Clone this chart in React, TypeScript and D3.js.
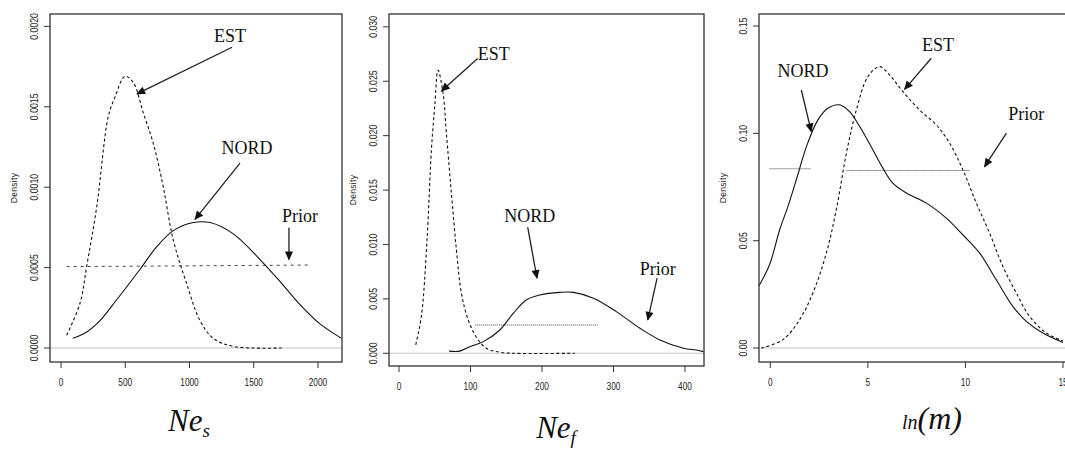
import React, { useEffect, useRef } from 'react';
import * as d3 from 'd3';

// ---- data: [value, density] ----
const nesXTicks = [0, 500, 1000, 1500, 2000];
const nesYTicks = [0, 0.0005, 0.001, 0.0015, 0.002];
const nesEst = [
  [44, 0.00008], [148, 0.00028], [200, 0.00051], [278, 0.00088], [368, 0.00144],
  [420, 0.00156], [498, 0.00169], [563, 0.00165], [641, 0.00146], [719, 0.00127],
  [796, 0.001], [874, 0.00067], [978, 0.0004], [1082, 0.00017], [1185, 0.00006],
  [1341, 0.00001], [1717, 0],
];
const nesNord = [
  [91, 0.00006], [200, 0.0001], [303, 0.00017], [433, 0.0003], [615, 0.00049],
  [745, 0.00063], [874, 0.00073], [1030, 0.00078], [1160, 0.00078], [1341, 0.00071],
  [1549, 0.00055], [1730, 0.00039], [1860, 0.00027], [2016, 0.00015], [2184, 0.00006],
];
const nesPrior = [[[44, 0.000506], [1951, 0.000516]]];

const nefXTicks = [0, 100, 200, 300, 400];
const nefYTicks = [0, 0.005, 0.01, 0.015, 0.02, 0.025, 0.03];
const nefEst = [
  [23.4, 0.00077], [31.3, 0.0034], [39.2, 0.0104], [45.3, 0.0187], [50, 0.0227],
  [54.6, 0.026], [61.6, 0.0239], [66.3, 0.0202], [73.3, 0.0147], [80.3, 0.0095],
  [87.3, 0.0055], [96.6, 0.0031], [108, 0.0015], [122, 0.00046], [141, 0.0001],
  [160, 0], [246, 0],
];
const nefNord = [
  [70, 0.0002], [85, 0.0002], [99, 0.0006], [118, 0.00107], [141, 0.00214],
  [160, 0.00368], [178, 0.0049], [197, 0.00536], [225, 0.0056], [244, 0.0056],
  [272, 0.00506], [304, 0.00383], [337, 0.0023], [365, 0.00122], [398, 0.00046],
  [416, 0.0003], [426, 0.00015],
];
const nefPrior = [[[106, 0.0026], [279, 0.0026]]];

const lnmXTicks = [0, 5, 10, 15];
const lnmYTicks = [0, 0.05, 0.1, 0.15];
const lnmEst = [
  [-0.46, 0], [0.65, 0.0039], [1.5, 0.0132], [2.18, 0.0256], [2.87, 0.0442],
  [3.38, 0.0644], [3.9, 0.0908], [4.41, 0.1109], [5.0, 0.1264], [5.6, 0.1311],
  [6.11, 0.1272], [6.8, 0.1194], [7.65, 0.1109], [8.51, 0.1039], [9.19, 0.0954],
  [9.87, 0.083], [10.56, 0.0675], [11.24, 0.0535], [11.92, 0.038], [12.61, 0.0256],
  [13.29, 0.0147], [14.15, 0.007], [15.0, 0.0033],
];
const lnmNord = [
  [-0.58, 0.029], [-0.04, 0.0388], [0.48, 0.0551], [0.9, 0.0659], [1.33, 0.0783],
  [1.85, 0.0938], [2.44, 0.1063], [2.95, 0.1117], [3.55, 0.1133], [4.06, 0.1101],
  [4.58, 0.1032], [5.26, 0.0923], [5.77, 0.0838], [6.28, 0.0768], [6.97, 0.0722],
  [8.0, 0.0675], [9.02, 0.0605], [9.87, 0.0527], [10.73, 0.0442], [11.58, 0.0318],
  [12.43, 0.0194], [13.12, 0.0124], [13.97, 0.007], [15.0, 0.0026],
];
const lnmPrior = [
  [[-0.04, 0.0835], [2.1, 0.0835]],
  [[3.9, 0.0827], [10.2, 0.0827]],
];

// annotation labels: text position, arrow start, arrow end (data units)
const nesNotes = [
  { text: 'EST', at: [1315, 0.00193], from: [1331, 0.00187], to: [591, 0.00158] },
  { text: 'NORD', at: [1447, 0.00123], from: [1393, 0.00115], to: [1043, 0.0008] },
  { text: 'Prior', at: [1860, 0.00081], from: [1774, 0.00075], to: [1774, 0.00055] },
];
const nefNotes = [
  { text: 'EST', at: [132.6, 0.0273], from: [110, 0.0271], to: [59.4, 0.0241] },
  { text: 'NORD', at: [183, 0.0124], from: [180, 0.0116], to: [193, 0.0069] },
  { text: 'Prior', at: [362, 0.00756], from: [361, 0.0069], to: [348, 0.00306] },
];
const lnmNotes = [
  { text: 'EST', at: [8.59, 0.1404], from: [8.25, 0.135], to: [6.88, 0.1205] },
  { text: 'NORD', at: [1.67, 0.1283], from: [1.59, 0.1202], to: [2.1, 0.1008] },
  { text: 'Prior', at: [13.12, 0.1081], from: [12.1, 0.1001], to: [10.98, 0.0845] },
];

const SANS = 'Liberation Sans';
const SERIF = 'Liberation Serif';

// layout of the three panels
const panels = [
  {
    box: { left: 50, right: 342, top: 14, bottom: 362 },
    xDomain: [-86, 2187], yDomain: [-0.000087, 0.002077],
    xTicks: nesXTicks, yTicks: nesYTicks, yFormat: '.4f',
    est: nesEst, nord: nesNord, prior: nesPrior, notes: nesNotes,
    priorDash: '3,4', title: { x: 189, y: 431, main: 'Ne', sub: 's' },
  },
  {
    box: { left: 389, right: 704, top: 14, bottom: 366 },
    xDomain: [-14, 426.6], yDomain: [-0.00117, 0.03118],
    xTicks: nefXTicks, yTicks: nefYTicks, yFormat: '.3f',
    est: nefEst, nord: nefNord, prior: nefPrior, notes: nefNotes,
    priorDash: '1,1', title: { x: 556, y: 438, main: 'Ne', sub: 'f' },
  },
  {
    box: { left: 759, right: 1070, top: 14, bottom: 362 },
    xDomain: [-0.58, 15.36], yDomain: [-0.0065, 0.1556],
    xTicks: lnmXTicks, yTicks: lnmYTicks, yFormat: '.2f',
    est: lnmEst, nord: lnmNord, prior: lnmPrior, notes: lnmNotes,
    priorDash: '1,1', title: null,
  },
];

function drawPanel(root, p) {
  const { box } = p;
  const x = d3.scaleLinear().domain(p.xDomain).range([box.left, box.right]);
  const y = d3.scaleLinear().domain(p.yDomain).range([box.bottom, box.top]);
  const g = root.append('g');

  // zero line
  g.append('line')
    .attr('x1', box.left).attr('x2', box.right)
    .attr('y1', y(0)).attr('y2', y(0))
    .attr('stroke', '#c4c4c4').attr('stroke-width', 1);

  const line = d3.line()
    .x(d => x(d[0]))
    .y(d => y(d[1]))
    .curve(d3.curveCatmullRom);

  p.prior.forEach(seg => {
    g.append('path').attr('d', line(seg))
      .attr('fill', 'none').attr('stroke', '#444').attr('stroke-width', 1)
      .attr('stroke-dasharray', p.priorDash);
  });
  g.append('path').attr('d', line(p.est))
    .attr('fill', 'none').attr('stroke', '#111').attr('stroke-width', 1.1)
    .attr('stroke-dasharray', '3,2.5');
  g.append('path').attr('d', line(p.nord))
    .attr('fill', 'none').attr('stroke', '#111').attr('stroke-width', 1.1);

  // box
  g.append('rect')
    .attr('x', box.left).attr('y', box.top)
    .attr('width', box.right - box.left).attr('height', box.bottom - box.top)
    .attr('fill', 'none').attr('stroke', '#333').attr('stroke-width', 1.3);

  // x axis ticks
  const xa = g.append('g');
  p.xTicks.forEach(t => {
    xa.append('line')
      .attr('x1', x(t)).attr('x2', x(t))
      .attr('y1', box.bottom).attr('y2', box.bottom + 6)
      .attr('stroke', '#333');
    xa.append('text')
      .attr('transform', `translate(${x(t)},${box.bottom + 24}) scale(0.72,1)`)
      .attr('text-anchor', 'middle')
      .style('font-family', SANS)
      .attr('font-size', 11.5)
      .attr('fill', '#222')
      .text(t);
  });

  // y axis ticks, labels rotated as in R
  const fmt = d3.format(p.yFormat);
  const ya = g.append('g');
  p.yTicks.forEach(t => {
    ya.append('line')
      .attr('x1', box.left - 6).attr('x2', box.left)
      .attr('y1', y(t)).attr('y2', y(t))
      .attr('stroke', '#333');
    ya.append('text')
      .attr('transform', `translate(${box.left - 15},${y(t)}) rotate(-90) scale(0.76,1)`)
      .attr('text-anchor', 'middle').attr('dominant-baseline', 'middle')
      .style('font-family', SANS)
      .attr('font-size', 11.5)
      .attr('fill', '#222')
      .text(fmt(t));
  });
  g.append('text')
    .attr('transform', `translate(${box.left - 35},${(box.top + box.bottom) / 2}) rotate(-90)`)
    .attr('text-anchor', 'middle').attr('dominant-baseline', 'middle')
    .style('font-family', SANS)
    .attr('font-size', 8.5).attr('letter-spacing', '0.3px')
    .attr('fill', '#222')
    .text('Density');

  // annotations
  p.notes.forEach(n => {
    g.append('line')
      .attr('x1', x(n.from[0])).attr('y1', y(n.from[1]))
      .attr('x2', x(n.to[0])).attr('y2', y(n.to[1]))
      .attr('stroke', '#222').attr('stroke-width', 1.3)
      .attr('marker-end', 'url(#arrowhead)');
    g.append('text')
      .attr('x', x(n.at[0])).attr('y', y(n.at[1]))
      .attr('text-anchor', 'middle').attr('dominant-baseline', 'middle')
      .style('font-family', SERIF)
      .attr('font-size', 18).attr('fill', '#111')
      .text(n.text);
  });

  // axis title
  if (p.title) {
    const t = root.append('text')
      .attr('x', p.title.x).attr('y', p.title.y)
      .attr('text-anchor', 'middle')
      .style('font-family', SERIF)
      .attr('font-style', 'italic').attr('fill', '#111');
    t.append('tspan').attr('font-size', 31).text(p.title.main);
    t.append('tspan').attr('font-size', 19).attr('dy', 6).text(p.title.sub);
  } else {
    const t = root.append('text')
      .attr('x', 932).attr('y', 429)
      .attr('text-anchor', 'middle')
      .style('font-family', SERIF)
      .attr('font-style', 'italic').attr('fill', '#111');
    t.append('tspan').attr('font-size', 20).text('ln');
    t.append('tspan').attr('font-size', 32).text('(m)');
  }
}

export default function App() {
  const svgRef = useRef(null);

  useEffect(() => {
    const svg = d3.select(svgRef.current);
    svg.selectAll('*').remove();

    svg.append('rect').attr('width', 1065).attr('height', 450).attr('fill', '#fff');

    svg.append('defs').append('marker')
      .attr('id', 'arrowhead')
      .attr('viewBox', '0 -5 10 10')
      .attr('refX', 9).attr('refY', 0)
      .attr('markerUnits', 'userSpaceOnUse')
      .attr('markerWidth', 10).attr('markerHeight', 9)
      .attr('orient', 'auto')
      .append('path')
      .attr('d', 'M0,-4.5L10,0L0,4.5Z')
      .attr('fill', '#111');

    const root = svg.append('g');
    panels.forEach(p => drawPanel(root, p));
  }, []);

  return (
    <svg
      ref={svgRef}
      width={1065}
      height={450}
      style={{ position: 'absolute', left: 0, top: 0, display: 'block' }}
    />
  );
}
